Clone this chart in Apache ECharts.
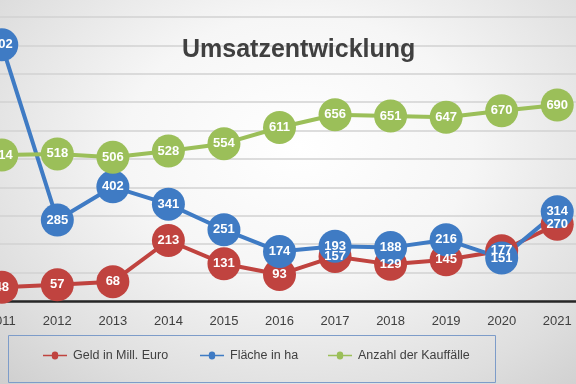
<!DOCTYPE html>
<html><head><meta charset="utf-8">
<script src="https://cdn.jsdelivr.net/npm/echarts@6/dist/echarts.min.js"></script>
<style>
html,body{margin:0;padding:0;width:576px;height:384px;overflow:hidden;position:relative;
background:radial-gradient(ellipse 75% 85% at 52% 38%, #ffffff 0%, #f6f6f6 40%, #dedede 80%, #cfcfcf 100%);}
#c{position:absolute;left:-26px;top:0;width:611px;height:384px;}
</style></head>
<body><div id="c"></div>
<script>
const years = ['2011','2012','2013','2014','2015','2016','2017','2018','2019','2020','2021'];
const geld = [48, 57, 68, 213, 131, 93, 157, 129, 145, 177, 270];
const flaeche = [902, 285, 402, 341, 251, 174, 193, 188, 216, 151, 314];
const anzahl = [514, 518, 506, 528, 554, 611, 656, 651, 647, 670, 690];
const names = ['Geld in Mill. Euro', 'Fläche in ha', 'Anzahl der Kauffälle'];
const colors = ['#c0433f', '#3f7bc4', '#9bbf59'];

const OFF = 26;
const chart = echarts.init(document.getElementById('c'));
const icon = 'path://M0,3 L11,3 A4,4 0 0,1 19,3 L30,3 L30,5 L19,5 A4,4 0 0,1 11,5 L0,5 Z';
function mkSeries(name, data, color) {
  return {
    name: name, type: 'line', data: data, z: 2,
    symbol: 'circle', symbolSize: 33,
    lineStyle: {color: color, width: 4},
    itemStyle: {color: color},
    label: {show: true, position: 'inside', color: '#fff', fontWeight: 'bold', fontSize: 13, fontFamily: 'Liberation Sans'},
    labelLayout: {hideOverlap: false},
    emphasis: {disabled: true},
    animation: false
  };
}
function mkLegend(name, left) {
  return {
    data: [{name: name, icon: icon}], left: left + OFF, top: 349, itemWidth: 30, itemHeight: 8, itemGap: 0,
    padding: 0,
    textStyle: {fontSize: 12.5, color: '#404040', fontFamily: 'Liberation Sans', padding: [0,0,0,-2]}
  };
}
chart.setOption({
  animation: false,
  color: colors,
  title: {text: 'Umsatzentwicklung', left: 177 + OFF, top: 33,
    textStyle: {fontSize: 25, fontWeight: 'bold', color: '#404040', fontFamily: 'Liberation Sans'}},
  grid: {left: 0, right: 0, top: 17, bottom: 83},
  xAxis: {type: 'category', data: years, boundaryGap: true,
    axisLine: {lineStyle: {color: '#262626', width: 2.5}},
    axisTick: {show: false},
    axisLabel: {color: '#404040', fontSize: 13, margin: 14, fontFamily: 'Liberation Sans'}},
  yAxis: {type: 'value', min: 0, max: 1000, interval: 100,
    axisLabel: {show: false}, axisLine: {show: false}, axisTick: {show: false},
    splitLine: {lineStyle: {color: '#d2d2d2', width: 1.5}}},
  legend: [mkLegend(names[0], 43), mkLegend(names[1], 200), mkLegend(names[2], 328)],
  graphic: [{type: 'rect', left: 8 + OFF, top: 335, shape: {width: 487, height: 47},
    style: {fill: 'rgba(0,0,0,0)', stroke: '#7d9cc9', lineWidth: 1}, z: 0}],
  series: [
    mkSeries(names[0], geld, colors[0]),
    mkSeries(names[1], flaeche, colors[1]),
    mkSeries(names[2], anzahl, colors[2])
  ]
});
</script></body></html>
